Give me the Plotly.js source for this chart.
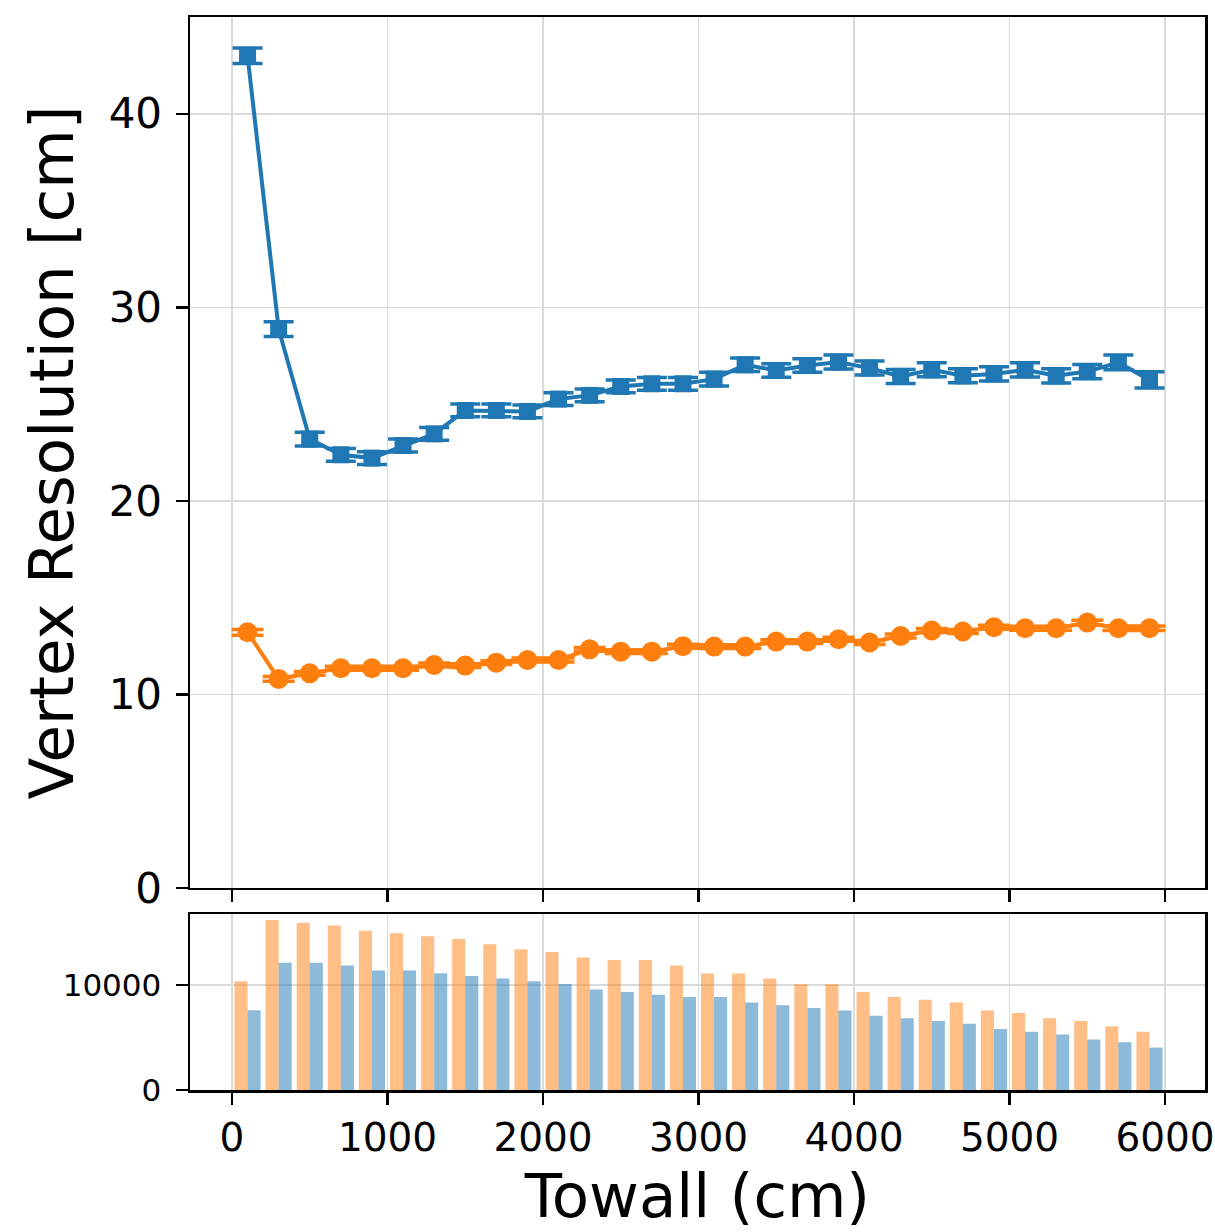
<!DOCTYPE html>
<html>
<head>
<meta charset="utf-8">
<script src="https://cdn.plot.ly/plotly-3.0.1.min.js"></script>
<style>html,body{margin:0;padding:0;background:#fff;}#plot{width:1215px;height:1232px;}</style>
</head>
<body>
<div id="plot"></div>
<script>
// Towall bin centres (cm)
const towall = [100, 300, 500, 700, 900, 1100, 1300, 1500, 1700, 1900,
                2100, 2300, 2500, 2700, 2900, 3100, 3300, 3500, 3700, 3900,
                4100, 4300, 4500, 4700, 4900, 5100, 5300, 5500, 5700, 5900];

// Vertex resolution, blue series (cm)
const resBlue = [43.0, 28.87, 23.19, 22.38, 22.21, 22.86, 23.46, 24.67, 24.67, 24.62,
                 25.26, 25.45, 25.91, 26.05, 26.05, 26.29, 27.03, 26.74, 26.99, 27.17,
                 26.86, 26.43, 26.77, 26.46, 26.56, 26.77, 26.46, 26.68, 27.15, 26.25];
const errBlue = [0.40, 0.38, 0.35, 0.33, 0.33, 0.33, 0.33, 0.33, 0.33, 0.33,
                 0.33, 0.33, 0.33, 0.33, 0.33, 0.35, 0.35, 0.35, 0.35, 0.36,
                 0.36, 0.36, 0.36, 0.36, 0.37, 0.37, 0.37, 0.37, 0.38, 0.42];

// Vertex resolution, orange series (cm)
const resOrange = [13.21, 10.80, 11.09, 11.35, 11.35, 11.35, 11.52, 11.49, 11.64, 11.78,
                   11.78, 12.33, 12.21, 12.21, 12.49, 12.47, 12.47, 12.73, 12.73, 12.85,
                   12.68, 13.02, 13.30, 13.25, 13.47, 13.42, 13.42, 13.71, 13.42, 13.42];
const errOrange = [0.15, 0.12, 0.10, 0.10, 0.10, 0.10, 0.10, 0.10, 0.10, 0.10,
                   0.10, 0.10, 0.10, 0.10, 0.10, 0.10, 0.10, 0.10, 0.10, 0.10,
                   0.10, 0.10, 0.10, 0.10, 0.10, 0.10, 0.10, 0.12, 0.12, 0.12];

// Event counts per bin
const countOrange = [10350, 16186, 15929, 15673, 15160, 14936, 14647, 14391, 13878, 13397,
                     13141, 12628, 12372, 12372, 11859, 11090, 11090, 10609, 10064, 10064,
                     9327, 8846, 8590, 8333, 7564, 7340, 6827, 6571, 6058, 5545];
const countBlue = [7596, 12115, 12115, 11859, 11378, 11378, 11122, 10865, 10609, 10353,
                   10096, 9583, 9327, 9071, 8846, 8846, 8333, 8077, 7820, 7564,
                   7083, 6827, 6571, 6314, 5801, 5545, 5288, 4808, 4551, 4038];

const xTicks = [0, 1000, 2000, 3000, 4000, 5000, 6000];
const xTickText = ['0', '1000', '2000', '3000', '4000', '5000', '6000'];
const yTicksTop = [0, 10, 20, 30, 40];
const yTicksBottom = [0, 10000];
const yTickTextBottom = ['0', '10000'];

const BLUE = '#1f77b4', ORANGE = '#ff7f0e';
const FONT = 'DejaVu Sans, Liberation Sans, sans-serif';

const traces = [
  {
    x: towall, y: resBlue, type: 'scatter', mode: 'lines+markers',
    xaxis: 'x', yaxis: 'y',
    line: {color: BLUE, width: 4},
    marker: {symbol: 'square', size: 17, color: BLUE},
    error_y: {type: 'data', array: errBlue, visible: true, color: BLUE, thickness: 3.5, width: 15},
    showlegend: false, hoverinfo: 'skip'
  },
  {
    x: towall, y: resOrange, type: 'scatter', mode: 'lines+markers',
    xaxis: 'x', yaxis: 'y',
    line: {color: ORANGE, width: 4},
    marker: {symbol: 'circle', size: 20, color: ORANGE},
    error_y: {type: 'data', array: errOrange, visible: true, color: ORANGE, thickness: 3.5, width: 16},
    showlegend: false, hoverinfo: 'skip'
  },
  {
    x: towall, y: countOrange, type: 'bar', xaxis: 'x2', yaxis: 'y2',
    marker: {color: ORANGE, line: {width: 0}}, opacity: 0.5,
    showlegend: false, hoverinfo: 'skip'
  },
  {
    x: towall, y: countBlue, type: 'bar', xaxis: 'x2', yaxis: 'y2',
    marker: {color: BLUE, line: {width: 0}}, opacity: 0.5,
    showlegend: false, hoverinfo: 'skip'
  }
];

const xRange = [-270, 6257];
const common = {
  showline: true, linecolor: '#000', linewidth: 2.5, mirror: true,
  ticks: 'outside', ticklen: 12, tickwidth: 2.5, tickcolor: '#000',
  showgrid: true, gridcolor: '#dadada', gridwidth: 1.5, zeroline: false
};

const layout = {
  width: 1215, height: 1232,
  margin: {l: 190, r: 10, t: 17, b: 142, pad: 0},
  paper_bgcolor: '#fff', plot_bgcolor: '#fff',
  font: {family: FONT, color: '#000'},
  barmode: 'group', bargap: 0.16, bargroupgap: 0,
  xaxis: Object.assign({}, common, {
    domain: [0, 1], anchor: 'y', range: xRange,
    tickvals: xTicks, showticklabels: false
  }),
  yaxis: Object.assign({}, common, {
    domain: [0.1883, 1], anchor: 'x', range: [0, 45],
    tickvals: yTicksTop, tickfont: {size: 42, family: FONT},
    ticklabelstandoff: 5,
    title: {text: 'Vertex Resolution [cm]', font: {size: 61, family: FONT}, standoff: 16}
  }),
  xaxis2: Object.assign({}, common, {
    domain: [0, 1], anchor: 'y2', range: xRange,
    tickvals: xTicks, ticktext: xTickText, tickfont: {size: 39, family: FONT},
    ticklabeloverflow: 'allow',
    title: {text: 'Towall (cm)', font: {size: 61, family: FONT}, standoff: 9}
  }),
  yaxis2: Object.assign({}, common, {
    domain: [0, 0.164], anchor: 'x2', range: [0, 16760],
    tickvals: yTicksBottom, ticktext: yTickTextBottom, tickfont: {size: 31, family: FONT},
    ticklabelstandoff: 8
  })
};

Plotly.newPlot('plot', traces, layout, {displayModeBar: false, staticPlot: true});
</script>
</body>
</html>
